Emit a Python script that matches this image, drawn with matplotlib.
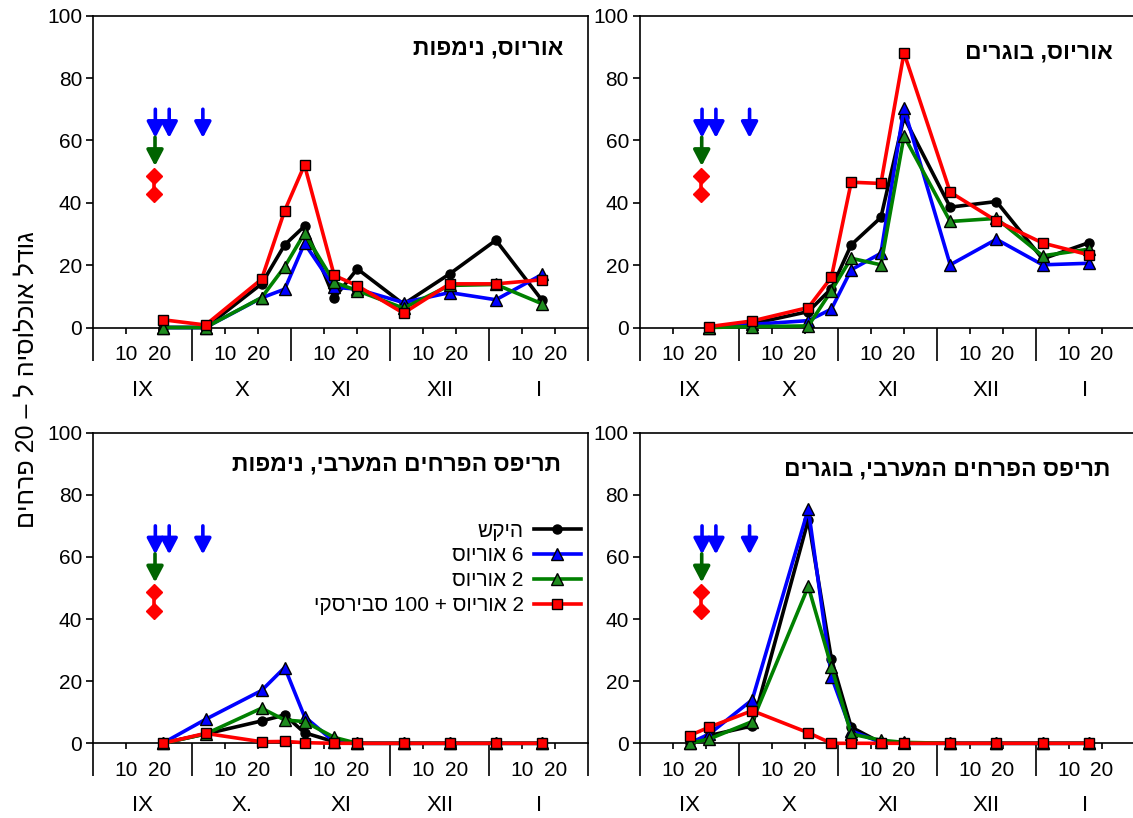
import re
import matplotlib
matplotlib.use("Agg")
import matplotlib.pyplot as plt
from matplotlib.lines import Line2D

plt.rcParams['font.family'] = ['Liberation Sans', 'DejaVu Sans']

# ---------------- data ----------------
# x = day position on a 30-day-per-month axis starting 1 Sep (IX=0..30, X=30..60, ...)
days = [21, 34, 51, 58, 64, 73, 80, 94, 108, 122, 136]
days_br = [15, 21, 34, 51, 58, 64, 73, 80, 94, 108, 122, 136]

series_labels = ["היקש", "6 אוריוס", "2 אוריוס", "2 אוריוס + 100 סבירסקי"]

# Orius nymphs
orius_nymph_control = [0, 0, 14, 26.5, 32.5, 9.5, 18.8, 7.5, 17.2, 28, 8.7]
orius_nymph_o6 = [0, 0, 9.5, 12.3, 27, 12.9, 12.3, 8, 11.2, 8.9, 17]
orius_nymph_o2 = [0, 0, 9.6, 19.5, 30.2, 14.5, 11.8, 6.2, 13.5, 13.8, 7.6]
orius_nymph_o2s = [2.5, 0.8, 15.5, 37.5, 52.1, 16.7, 13.4, 4.6, 14, 14, 15.3]

# Orius adults
orius_adult_control = [0, 1.2, 5.1, 12.5, 26.5, 35.3, 67.4, 38.6, 40.4, 22, 27.2]
orius_adult_o6 = [0, 1, 2.2, 5.9, 18.5, 23.8, 70.3, 20.1, 28.3, 20.1, 20.6]
orius_adult_o2 = [0, 0.3, 0.5, 11.8, 22.2, 20.1, 61.4, 34, 35, 23, 25.1]
orius_adult_o2s = [0.3, 2.1, 6.4, 16.1, 46.6, 46.2, 88.1, 43.4, 34.2, 27.1, 23.3]

# WFT nymphs
wft_nymph_control = [0, 3, 7.2, 9.1, 3.4, 0.5, 0, 0, 0, 0, 0]
wft_nymph_o6 = [0, 7.7, 17, 24.4, 8.6, 0.5, 0, 0, 0, 0, 0]
wft_nymph_o2 = [0, 3, 11.3, 7.5, 7, 1.9, 0, 0, 0, 0, 0]
wft_nymph_o2s = [0, 3.2, 0.5, 0.6, 0.2, 0, 0, 0, 0, 0, 0]

# WFT adults
wft_adult_control = [0, 2.5, 5.6, 72, 27.1, 5.2, 0.2, 0, 0, 0, 0, 0]
wft_adult_o6 = [0, 3, 14, 75.5, 21.5, 4, 0.3, 0, 0, 0, 0, 0]
wft_adult_o2 = [0, 1.4, 7, 50.5, 24.7, 3, 1, 0.3, 0, 0, 0, 0]
wft_adult_o2s = [2.5, 5.2, 10.5, 3.4, 0, 0, 0, 0, 0, 0, 0, 0]

# release markers
blue_release_days = [18.8, 23, 33.2]
green_release_day = 18.7
red_release_day = 18.5
red_release_levels = [48.7, 42.7]

titles = ["אוריוס, נימפות", "אוריוס, בוגרים",
          "תריפס הפרחים המערבי, נימפות", "תריפס הפרחים המערבי, בוגרים"]
month_labels_std = ["IX", "X", "XI", "XII", "I"]
month_labels_bl = ["IX", "X.", "XI", "XII", "I"]
ylabel = "גודל אוכלוסיה ל – 20 פרחים"


def rtl(s):
    r = s[::-1]
    return re.sub(r'\d+', lambda m: m.group(0)[::-1], r)


colors = ['black', '#0000FF', '#008000', '#FF0000']
markers = ['o', '^', '^', 's']
msizes = [6.5, 8, 8, 7]
mfc = ['black', '#0000FF', '#1E8C1E', '#FF0000']

W, H = 1133, 818
fig = plt.figure(figsize=(W / 100, H / 100), dpi=100)


def px_axes(x0, y_top, x1, y_bot):
    return fig.add_axes([x0 / W, 1 - y_bot / H, (x1 - x0) / W, (y_bot - y_top) / H])


axes = [
    px_axes(93.3, 15.7, 588.3, 327.5),
    px_axes(640, 15.7, 1135, 327.5),
    px_axes(93.3, 432.7, 588.3, 743.3),
    px_axes(640, 432.7, 1135, 743.3),
]

panel_data = [
    (days, [orius_nymph_control, orius_nymph_o6, orius_nymph_o2, orius_nymph_o2s]),
    (days, [orius_adult_control, orius_adult_o6, orius_adult_o2, orius_adult_o2s]),
    (days, [wft_nymph_control, wft_nymph_o6, wft_nymph_o2, wft_nymph_o2s]),
    (days_br, [wft_adult_control, wft_adult_o6, wft_adult_o2, wft_adult_o2s]),
]
title_pos = [(0.949, 89.6), (0.955, 88.5), (0.944, 90.0), (0.95, 88.3)]

month_starts = [0, 30, 60, 90, 120, 150]
minor = [m + d for m in month_starts[:-1] for d in (10, 20)]
minor_labels = ["10", "20"] * 5

for i, ax in enumerate(axes):
    xs, ys = panel_data[i]
    for k in range(4):
        ax.plot(xs, ys[k], color=colors[k], lw=2.6, marker=markers[k],
                ms=msizes[k], mfc=mfc[k], mec='black', mew=1.0,
                clip_on=False, zorder=3 + k)
    ax.set_xlim(0, 150)
    ax.set_ylim(0, 100)
    ax.set_yticks([0, 20, 40, 60, 80, 100])
    ax.tick_params(axis='y', direction='out', length=5, width=1.2,
                   labelsize=15, pad=3)
    ax.set_xticks(month_starts)
    ax.set_xticklabels([])
    ax.tick_params(axis='x', which='major', direction='out', length=24,
                   width=1.2)
    ax.set_xticks(minor, minor=True)
    ax.set_xticklabels(minor_labels, minor=True)
    ax.tick_params(axis='x', which='minor', direction='out', length=4.5,
                   width=1.2, labelsize=15, pad=8)
    for s in ax.spines.values():
        s.set_linewidth(1.2)
    mlabels = month_labels_bl if i == 2 else month_labels_std
    for j, lab in enumerate(mlabels):
        ax.annotate(lab, xy=(month_starts[j] + 15, 0),
                    xycoords=('data', 'axes fraction'),
                    xytext=(0, -45), textcoords='offset points',
                    ha='center', va='center', fontsize=16, annotation_clip=False)
    tx, ty = title_pos[i]
    ax.annotate(rtl(titles[i]), xy=(tx, ty), xycoords=('axes fraction', 'data'),
                ha='right', va='center', fontsize=16.5, fontweight='bold')

    # release arrows
    top_b, tip_b = 70, 60.8
    for xb in blue_release_days:
        ax.annotate('', xy=(xb, tip_b), xytext=(xb, top_b),
                    arrowprops=dict(arrowstyle='-|>,head_length=0.95,head_width=0.5',
                                    color='#0000FF', lw=2.6, shrinkA=0, shrinkB=0,
                                    mutation_scale=10))
    ax.annotate('', xy=(green_release_day, 51.8), xytext=(green_release_day, 61),
                arrowprops=dict(arrowstyle='-|>,head_length=0.95,head_width=0.5',
                                color='#006400', lw=2.6, shrinkA=0, shrinkB=0,
                                mutation_scale=10))
    ax.plot([red_release_day] * 2, red_release_levels, color='#FF0000', lw=2.6,
            marker='D', ms=8, mfc='#FF0000', mec='#FF0000')

# legend in bottom-left panel
handles = [Line2D([], [], color=colors[k], lw=2.6, marker=markers[k], ms=msizes[k],
                  mfc=mfc[k], mec='black', mew=1.0) for k in range(4)]
axes[2].legend(handles, [rtl(s) for s in series_labels], loc='upper right',
               bbox_to_anchor=(0.985, 0.714), frameon=False, markerfirst=False,
               fontsize=15, handlelength=2.25, handletextpad=0.5,
               labelspacing=0.28, borderpad=0, borderaxespad=0)

fig.text(26 / W, 1 - 380 / H, rtl(ylabel), rotation=90, ha='center', va='center',
         fontsize=18)

fig.savefig("out.png", dpi=100)
